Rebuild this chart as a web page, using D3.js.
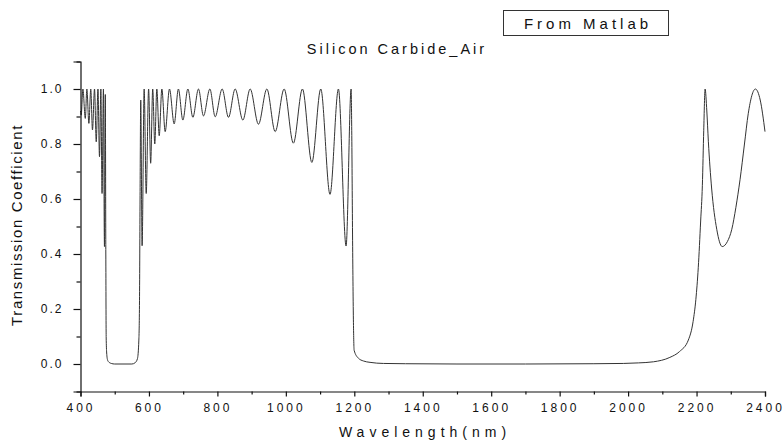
<!DOCTYPE html>
<html>
<head>
<meta charset="utf-8">
<script src="https://cdn.jsdelivr.net/npm/d3@7"></script>
<style>
  body { margin: 0; background: #fff; }
  svg { display: block; font-family: "Liberation Sans", Arial, sans-serif; }
</style>
</head>
<body>
<div id="chart"></div>
<script>
// wavelength (nm) and transmission: peaks, troughs and edge points
var wavelength = [
  400, 402, 407, 414, 418.6, 424.5, 430, 435, 441, 446, 451, 455.5, 459.5, 463, 467, 470, 472.5,
  474, 475, 476.5, 479, 482, 490, 500, 550, 560, 566.5, 570.5, 572.4, 574, 576,
  580, 586, 592, 599, 605, 611, 617, 623, 630, 637.7, 647.4, 660, 673.7, 686, 699.1, 713.7,
  728.3, 744.7, 759.3, 778, 793.5, 813.9, 832.4, 851.9, 874.4, 895.7, 920, 944.5, 968.8, 995,
  1022, 1048.5, 1076, 1102, 1129, 1153.6, 1176, 1190.7,
  1192.5, 1195, 1197.5, 1199.5, 1212, 1226.6, 1246, 1285, 1350, 1500, 1700, 1900, 1986,
  2030, 2074, 2122, 2150, 2176, 2190, 2198, 2205, 2212, 2217, 2221, 2225,
  2230, 2234.5, 2244, 2259, 2275, 2290, 2303, 2315, 2327, 2340, 2351, 2372, 2386, 2400
];
var transmission = [
  0.92, 0.905, 1.0, 0.893, 1.0, 0.875, 1.0, 0.851, 1.0, 0.808, 1.0, 0.754, 1.0, 0.62, 1.0, 0.427, 0.98,
  0.4, 0.1, 0.04, 0.015, 0.008, 0.002, 0, 0, 0.005, 0.02, 0.087, 0.23, 0.6, 0.96,
  0.43, 1.0, 0.62, 1.0, 0.73, 1.0, 0.80, 1.0, 0.83, 1.0, 0.845, 1.0, 0.873, 1.0, 0.887, 1.0,
  0.897, 1.0, 0.902, 1.0, 0.899, 1.0, 0.897, 1.0, 0.887, 1.0, 0.872, 1.0, 0.845, 1.0,
  0.803, 1.0, 0.733, 1.0, 0.617, 1.0, 0.429, 1.0,
  0.85, 0.45, 0.15, 0.05, 0.021, 0.011, 0.006, 0.002, 0.001, 0, 0, 0.001, 0.002,
  0.004, 0.008, 0.024, 0.045, 0.087, 0.155, 0.235, 0.35, 0.52, 0.65, 0.85, 1.0,
  0.92, 0.81, 0.64, 0.49, 0.427, 0.445, 0.49, 0.57, 0.67, 0.8, 0.91, 1.0, 0.96, 0.845
];
var xMajor = [400, 600, 800, 1000, 1200, 1400, 1600, 1800, 2000, 2200, 2400];
var xMinor = [500, 700, 900, 1100, 1300, 1500, 1700, 1900, 2100, 2300];
var yMajor = [0.0, 0.2, 0.4, 0.6, 0.8, 1.0];
var yMinor = [-0.1, 0.1, 0.3, 0.5, 0.7, 0.9, 1.1];

var width = 784, height = 441;

var svg = d3.select('#chart')
    .append('svg')
    .attr('width', width)
    .attr('height', height);

svg.append('rect').attr('width', width).attr('height', height).attr('fill', '#fff');

var x = d3.scaleLinear().domain([400, 2400]).range([80.5, 765]);
var y = d3.scaleLinear().domain([-0.1, 1.1]).range([391.5, 61.5]);

var points = wavelength.map(function(w, i) {
    return { w: w, t: transmission[i] };
});

var line = d3.line()
    .x(function(d) { return x(d.w); })
    .y(function(d) { return y(d.t); })
    .curve(d3.curveMonotoneX);

svg.append('path')
    .datum(points)
    .attr('fill', 'none')
    .attr('stroke', '#333')
    .attr('stroke-width', 1)
    .attr('d', line);

// axes
var xAxis = svg.append('g')
    .attr('transform', 'translate(0,' + y(-0.1) + ')')
    .call(d3.axisBottom(x).tickValues(xMajor).tickSize(5).tickPadding(7).tickFormat(d3.format('d')));
svg.append('g')
    .attr('transform', 'translate(0,' + y(-0.1) + ')')
    .call(d3.axisBottom(x).tickValues(xMinor).tickSize(3).tickFormat(''))
    .select('.domain').remove();

var yAxis = svg.append('g')
    .attr('transform', 'translate(' + x(400) + ',0)')
    .call(d3.axisLeft(y).tickValues(yMajor).tickSize(7).tickPadding(10).tickFormat(d3.format('.1f')));
svg.append('g')
    .attr('transform', 'translate(' + x(400) + ',0)')
    .call(d3.axisLeft(y).tickValues(yMinor).tickSize(4).tickFormat(''))
    .select('.domain').remove();

svg.selectAll('.domain').attr('stroke', '#111').attr('stroke-width', 1.2);
svg.selectAll('.tick line').attr('stroke', '#111').attr('stroke-width', 1.2);

xAxis.selectAll('text')
    .attr('fill', '#111')
    .style('font-size', '12px')
    .style('letter-spacing', '3px');
yAxis.selectAll('text')
    .attr('fill', '#111')
    .style('font-size', '12px')
    .style('letter-spacing', '2px');

// titles
svg.append('text')
    .attr('x', 425)
    .attr('y', 437)
    .attr('text-anchor', 'middle')
    .style('font-size', '14px')
    .style('letter-spacing', '5px')
    .attr('fill', '#111')
    .text('Wavelength(nm)');

svg.append('text')
    .attr('transform', 'translate(22,225) rotate(-90)')
    .attr('text-anchor', 'middle')
    .style('font-size', '15px')
    .style('letter-spacing', '1.6px')
    .attr('fill', '#111')
    .text('Transmission Coefficient');

svg.append('text')
    .attr('x', 397)
    .attr('y', 54)
    .attr('text-anchor', 'middle')
    .style('font-size', '14.5px')
    .style('letter-spacing', '3px')
    .attr('fill', '#111')
    .text('Silicon Carbide_Air');

svg.append('rect')
    .attr('x', 503.5)
    .attr('y', 10.5)
    .attr('width', 165)
    .attr('height', 25)
    .attr('fill', 'none')
    .attr('stroke', '#333')
    .attr('stroke-width', 1);

svg.append('text')
    .attr('x', 588)
    .attr('y', 29)
    .attr('text-anchor', 'middle')
    .style('font-size', '15px')
    .style('letter-spacing', '4px')
    .attr('fill', '#111')
    .text('From Matlab');
</script>
</body>
</html>
